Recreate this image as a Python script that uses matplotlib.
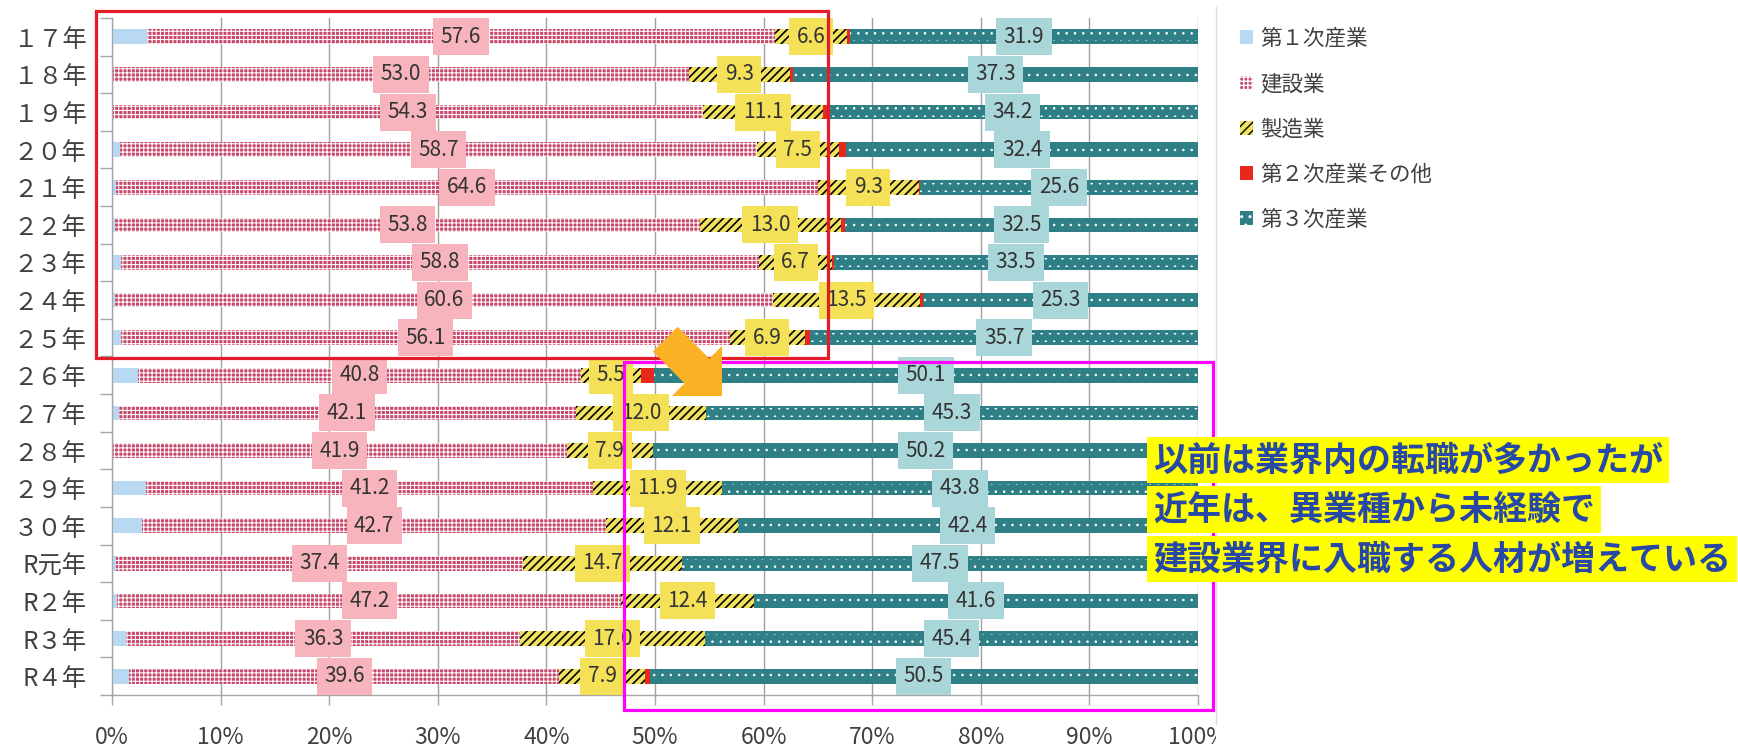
import numpy as np
import matplotlib
matplotlib.use("Agg")
import matplotlib.pyplot as plt
from matplotlib.patches import Patch, Rectangle, FancyArrow

plt.rcParams['font.family'] = ['Noto Sans CJK JP', 'DejaVu Sans']

# ---- data -------------------------------------------------------------
years = ['１７年', '１８年', '１９年', '２０年', '２１年', '２２年', '２３年', '２４年', '２５年',
         '２６年', '２７年', '２８年', '２９年', '３０年', 'R元年', 'R２年', 'R３年', 'R４年']
primary = [3.2, 0.1, 0.1, 0.7, 0.4, 0.3, 0.8, 0.3, 0.8,
           2.4, 0.6, 0.0, 3.1, 2.8, 0.4, 0.5, 1.3, 1.6]
construction = [57.6, 53.0, 54.3, 58.7, 64.6, 53.8, 58.8, 60.6, 56.1,
                40.8, 42.1, 41.9, 41.2, 42.7, 37.4, 47.2, 36.3, 39.6]
manufacturing = [6.6, 9.3, 11.1, 7.5, 9.3, 13.0, 6.7, 13.5, 6.9,
                 5.5, 12.0, 7.9, 11.9, 12.1, 14.7, 12.4, 17.0, 7.9]
other_secondary = [0.3, 0.3, 0.3, 0.7, 0.1, 0.4, 0.2, 0.3, 0.5,
                   1.2, 0.0, 0.0, 0.0, 0.0, 0.0, 0.0, 0.0, 0.4]
tertiary = [31.9, 37.3, 34.2, 32.4, 25.6, 32.5, 33.5, 25.3, 35.7,
            50.1, 45.3, 50.2, 43.8, 42.4, 47.5, 41.6, 45.4, 50.5]
series_names = ['第１次産業', '建設業', '製造業', '第２次産業その他', '第３次産業']
xticks = [0, 10, 20, 30, 40, 50, 60, 70, 80, 90, 100]
note_lines = ['以前は業界内の転職が多かったが',
              '近年は、異業種から未経験で',
              '建設業界に入職する人材が増えている']

# ---- figure ------------------------------------------------------------
W, H, DPI = 1738, 746, 100
fig = plt.figure(figsize=(W / DPI, H / DPI), dpi=DPI)
fig.patch.set_facecolor('white')


def inch(x, y_top):
    """pixel position measured from the top-left corner -> inches"""
    return x / DPI, (H - y_top) / DPI


ax = fig.add_axes([112 / W, (H - 695) / H, (1198 - 112) / W, (695 - 18) / H])

series = [primary, construction, manufacturing, other_secondary, tertiary]
# 'inner' : the hatch is laid on a narrower band inside the bar
styles = [
    dict(fc='#b9d9f2', ec='#b9d9f2', hatch=None, hlw=0.5, box=None, inner=False),
    dict(fc='#c8486b', ec='white', hatch='++++', hlw=0.75, box='#f8b4bc', inner=False),
    dict(fc='#f0e25e', ec='black', hatch='////', hlw=1.2, box='#f4e158', inner=False),
    dict(fc='#e8281c', ec='#e8281c', hatch=None, hlw=0.5, box=None, inner=False),
    dict(fc='#2e7f86', ec='white', hatch='..', hlw=0.6, box='#a9d6d9', inner=True),
]

values = np.array(series, dtype=float)          # shape (5, n)
shares = values / values.sum(axis=0) * 100.0    # 100% stacked
ypos = np.arange(len(years))
left = np.zeros(len(years))
BAR_H = 0.39


def set_hatch_lw(artist, lw):
    if hasattr(artist, 'set_hatch_linewidth'):
        artist.set_hatch_linewidth(lw)


for k, st in enumerate(styles):
    if st['inner']:
        ax.barh(ypos, shares[k], left=left, height=BAR_H, color=st['fc'], linewidth=0, zorder=2)
        with plt.rc_context({'hatch.linewidth': st['hlw']}):
            bars = ax.barh(ypos, shares[k], left=left, height=BAR_H * 0.62, facecolor='none',
                           edgecolor=st['ec'], hatch=st['hatch'], linewidth=0, zorder=2.1)
    else:
        with plt.rc_context({'hatch.linewidth': st['hlw']}):
            bars = ax.barh(ypos, shares[k], left=left, height=BAR_H, color=st['fc'],
                           edgecolor=st['ec'], hatch=st['hatch'], linewidth=0, zorder=2)
    for b in bars:
        set_hatch_lw(b, st['hlw'])
    if st['box'] is not None:
        for i in range(len(years)):
            ax.text(left[i] + shares[k, i] / 2, ypos[i], f'{values[k, i]:.1f}',
                    ha='center', va='center', fontsize=15, color='#333333', zorder=4,
                    bbox=dict(boxstyle='square,pad=0.36', fc=st['box'], ec='none'))
    left = left + shares[k]

ax.set_xlim(0, 100)
ax.set_ylim(len(years) - 0.5, -0.5)
ax.set_xticks(xticks)
ax.set_xticklabels([f'{t}%' for t in xticks])
ax.set_yticks(ypos)
ax.set_yticklabels(years)
ax.set_yticks(np.arange(-0.5, len(years), 1.0), minor=True)
ax.tick_params(axis='y', which='major', length=0, pad=18.4, labelsize=17.5, labelcolor='#404040')
ax.tick_params(axis='y', which='minor', length=9, width=1, color='#a6a6a6')
ax.tick_params(axis='x', which='major', length=7, width=1, color='#a6a6a6',
               pad=15.5, labelsize=16.5, labelcolor='#404040')
ax.xaxis.grid(True, color='#a0a0a0', linewidth=1.0, zorder=0)
ax.set_axisbelow(True)
for s in ['top', 'right']:
    ax.spines[s].set_visible(False)
for s in ['left', 'bottom']:
    ax.spines[s].set_color('#a6a6a6')
    ax.spines[s].set_linewidth(1.0)

# right-hand panel background (cuts off the last tick label)
cover = Rectangle(inch(1216, 746), (W - 1216) / DPI, H / DPI, transform=fig.dpi_scale_trans,
                  facecolor='white', edgecolor='none', zorder=1)
fig.add_artist(cover)
fig.add_artist(plt.Line2D([1216 / W, 1216 / W], [0.03, 0.99], transform=fig.transFigure,
                          color='#dcdcdc', linewidth=1, zorder=1.1))

# highlight frames
x0, y0 = inch(96, 358)
fig.add_artist(Rectangle((x0, y0), (828 - 96) / DPI, (358 - 11) / DPI, transform=fig.dpi_scale_trans,
                         fill=False, edgecolor='#e31c2a', linewidth=2.3, zorder=2))
x0, y0 = inch(624, 710)
fig.add_artist(Rectangle((x0, y0), (1213 - 624) / DPI, (710 - 362) / DPI, transform=fig.dpi_scale_trans,
                         fill=False, edgecolor='#ff00ff', linewidth=2.3, zorder=2))

# arrow pointing into the recent years
tail = inch(665.2, 339.2)
tip = inch(722, 396)
fig.add_artist(FancyArrow(tail[0], tail[1], tip[0] - tail[0], tip[1] - tail[1],
                          width=35 / DPI, head_width=70.7 / DPI, head_length=35.4 / DPI,
                          length_includes_head=True, transform=fig.dpi_scale_trans,
                          facecolor='#fbb124', edgecolor='none', zorder=3))

# legend
handles = []
for st in styles:
    with plt.rc_context({'hatch.linewidth': st['hlw']}):
        p = Patch(facecolor=st['fc'], edgecolor=st['ec'], hatch=st['hatch'], linewidth=0)
    set_hatch_lw(p, st['hlw'])
    handles.append(p)
leg = fig.legend(handles, series_names, loc='upper left', bbox_to_anchor=(1240 / W, (H - 28) / H),
                 frameon=False, fontsize=15.5, handlelength=0.62, handleheight=0.62,
                 handletextpad=0.3, labelspacing=1.08, borderpad=0, borderaxespad=0)
for t in leg.get_texts():
    t.set_color('#404040')
leg.set_zorder(4)

# note
for j, line in enumerate(note_lines):
    fig.text(1153 / W, (H - (460 + 49.5 * j)) / H, line, ha='left', va='center',
             fontsize=24.5, fontweight='bold', color='#2748a5', zorder=5,
             bbox=dict(boxstyle='square,pad=0.17', fc='#ffff00', ec='none'))

fig.savefig('out.png', dpi=DPI)
